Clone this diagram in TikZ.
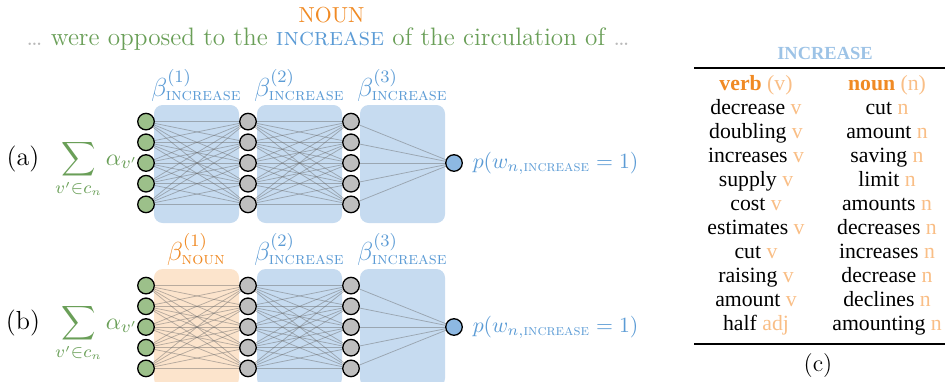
\documentclass[tikz,border=0pt]{standalone}
\usepackage{amsmath, amssymb}
\usepackage{fontspec}
\newfontfamily\tabfont{Liberation Serif}
\usetikzlibrary{positioning, backgrounds}
\definecolor{nngreen}{HTML}{6A9F58}
\definecolor{nnblue}{HTML}{5B9BD5}
\definecolor{nnorange}{HTML}{F08A24}
\definecolor{boxblue}{HTML}{C6DBF0}
\definecolor{boxorange}{HTML}{FCE4CC}
\definecolor{tagorange}{HTML}{F9BE86}
\definecolor{headblue}{HTML}{9DC3E6}
\definecolor{ingreen}{HTML}{9CC08A}
\definecolor{hidgray}{HTML}{BEBEBE}
\definecolor{outblue}{HTML}{8DB8E2}

\begin{document}
\begin{tikzpicture}[x=0.46pt, y=-0.46pt,
      unit/.style={circle, draw=black, line width=0.6pt, inner sep=0pt,
                   minimum size=7.6pt},
      layerbox/.style={rounded corners=4pt},
      wire/.style={gray!80!black, opacity=0.45, line width=0.35pt},
      betalab/.style={anchor=south, inner sep=1pt, font=\large},
      entry/.style={font=\tabfont, inner sep=0pt, anchor=base}
    ]
      \useasboundingbox (0,0) rectangle (945,381);

      % Sentence
      \node[nnorange, anchor=base] (noun) at (331.5,22) {NOUN};
      \node[anchor=base, font=\fontsize{11.6}{14}\selectfont] (sent) at (328,45)
        {\textcolor{gray!55}{\dots} \textcolor{nngreen}{were opposed to the}
         \textcolor{nnblue}{\textsc{increase}}
         \textcolor{nngreen}{of the circulation of} \textcolor{gray!55}{\dots}};

      % Networks (a) and (b)
      \foreach \row/\yc/\boxcol/\betacol/\betasub in
          {a/163/boxblue/nnblue/increase, b/327/boxorange/nnorange/noun} {
        \node[anchor=base, font=\large] (lab-\row) at (23,\yc+2) {(\row)};
        \node[nngreen, anchor=base west, inner sep=0pt,
              font=\fontsize{11}{13}\selectfont] (sum-\row) at (55,\yc+2)
          {$\displaystyle\sum_{v'\in c_n}\alpha_{v'}$};
        \foreach \i [evaluate=\i as \yy using \yc+20.7*(\i-3)] in {1,...,5} {
          \node[unit, fill=ingreen] (\row-in-\i) at (146,\yy) {};
          \node[unit, fill=hidgray] (\row-hA-\i) at (248,\yy) {};
          \node[unit, fill=hidgray] (\row-hB-\i) at (351,\yy) {};
        }
        \node[unit, fill=outblue] (\row-out) at (454,\yc) {};
        \node[nnblue, right=1pt of \row-out] (\row-p)
          {$p(w_{n,\text{\textsc{increase}}}=1)$};

        \begin{scope}[on background layer]
          \fill[layerbox, \boxcol] (154,\yc-58) rectangle (239,\yc+60);
          \fill[layerbox, boxblue] (257,\yc-58) rectangle (342,\yc+60);
          \fill[layerbox, boxblue] (360,\yc-58) rectangle (445,\yc+60);
          \foreach \i in {1,...,5} {
            \foreach \j in {1,...,5} {
              \draw[wire] (\row-in-\i) -- (\row-hA-\j);
              \draw[wire] (\row-hA-\i) -- (\row-hB-\j);
            }
            \draw[wire] (\row-hB-\i) -- (\row-out);
          }
        \end{scope}

        \node[betalab, \betacol] (\row-beta1) at (196.5,\yc-59)
          {$\beta^{(1)}_{\text{\textsc{\betasub}}}$};
        \node[betalab, nnblue] (\row-beta2) at (299.5,\yc-59)
          {$\beta^{(2)}_{\text{\textsc{increase}}}$};
        \node[betalab, nnblue] (\row-beta3) at (402.5,\yc-59)
          {$\beta^{(3)}_{\text{\textsc{increase}}}$};
      }

      % Table (c)
      \node[headblue, font=\tabfont\bfseries\fontsize{8.5}{10}\selectfont,
            anchor=base] (thead) at (825,59) {INCREASE};
      \coordinate (rule-tl) at (694,68);
      \coordinate (rule-tr) at (945,68);
      \coordinate (rule-bl) at (694,344);
      \coordinate (rule-br) at (945,344);
      \draw[line width=0.9pt] (rule-tl) -- (rule-tr);
      \draw[line width=0.9pt] (rule-bl) -- (rule-br);
      \node[entry] (hv) at (756,90)
        {\textcolor{nnorange}{\bfseries verb} \textcolor{tagorange}{(v)}};
      \node[entry] (hn) at (887,90)
        {\textcolor{nnorange}{\bfseries noun} \textcolor{tagorange}{(n)}};
      \foreach \vw/\vt/\nw [count=\k] in
          {decrease/v/cut, doubling/v/amount, increases/v/saving,
           supply/v/limit, cost/v/amounts, estimates/v/decreases,
           cut/v/increases, raising/v/decrease, amount/v/declines,
           half/adj/amounting} {
        \node[entry] (v-\k) at (756,90+24*\k) {\vw{} \textcolor{tagorange}{\vt}};
        \node[entry] (n-\k) at (887,90+24*\k) {\nw{} \textcolor{tagorange}{n}};
      }
      \node[anchor=base, font=\fontsize{11}{13}\selectfont] (cap-c) at (818,371) {(c)};
    \end{tikzpicture}
\end{document}
